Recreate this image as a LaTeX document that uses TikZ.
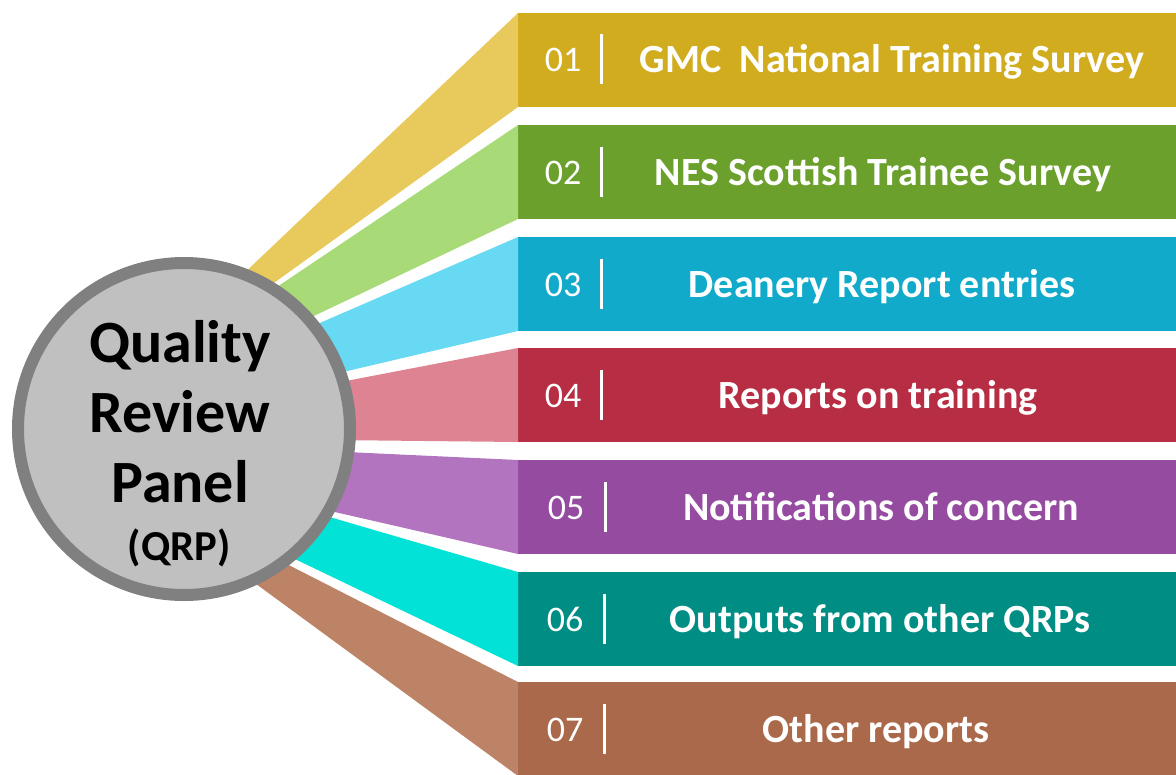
\documentclass[tikz,border=0pt]{standalone}
\usepackage{fontspec}
\setmainfont{Carlito}
% bar (dark) and fan (light) colours
\definecolor{barc1}{HTML}{D1AC1F}\definecolor{fanc1}{HTML}{E8CA5C}
\definecolor{barc2}{HTML}{6AA02B}\definecolor{fanc2}{HTML}{A9DA78}
\definecolor{barc3}{HTML}{12AACB}\definecolor{fanc3}{HTML}{67D9F2}
\definecolor{barc4}{HTML}{B72D43}\definecolor{fanc4}{HTML}{DE8391}
\definecolor{barc5}{HTML}{944BA0}\definecolor{fanc5}{HTML}{B274BE}
\definecolor{barc6}{HTML}{008E84}\definecolor{fanc6}{HTML}{02E2D6}
\definecolor{barc7}{HTML}{A9694A}\definecolor{fanc7}{HTML}{BD8367}
\definecolor{hubfill}{HTML}{C0C0C0}
\definecolor{hubedge}{HTML}{808080}
\begin{document}
\begin{tikzpicture}[x=0.75pt,y=-0.75pt,
  bar/.style={rectangle, inner sep=0pt, outer sep=0pt, minimum width=493.5pt, minimum height=70.5pt},
  num/.style={text=white, font=\fontsize{27}{32}\selectfont, inner sep=0pt, anchor=base},
  divider/.style={fill=white, inner sep=0pt, outer sep=0pt, minimum width=2.25pt, minimum height=38pt},
  title/.style={text=white, font=\bfseries\fontsize{30}{36}\selectfont, inner sep=0pt, anchor=base},
  hub/.style={circle, fill=hubfill, draw=hubedge, line width=9pt, minimum size=249pt, inner sep=0pt},
  hubtext/.style={font=\bfseries\fontsize{45}{52}\selectfont, inner sep=0pt, anchor=base},
  hubsmall/.style={font=\bfseries\fontsize{32}{38}\selectfont, inner sep=0pt, anchor=base}
]
\useasboundingbox (0,0) rectangle (1176,774);

% the seven source bars
\foreach \i/\yc in {1/60,2/172,3/284,4/395,5/507,6/619,7/729}
  \node[bar, fill=barc\i] (bar\i) at (847,\yc) {};

% fan bands running from the hub to each bar
\coordinate (hubc) at (184,429);
\foreach \i/\ax/\ay/\bx/\by in {1/239/278/260/293, 2/262/297/297/324, 3/299/332/326/376,
    4/325/385/332/440, 5/325/451/313/507, 6/309/511/274/549, 7/271/556/237/570}
  \fill[fanc\i] (bar\i.north west) -- (\ax,\ay) -- (hubc) -- (\bx,\by) -- (bar\i.south west) -- cycle;

% hub
\node[hub] (qrp) at (hubc) {};
\node[hubtext] (l1) at (180,362) {Quality};
\node[hubtext] (l2) at (180,432) {Review};
\node[hubtext] (l3) at (180,502) {Panel};
\node[hubsmall] (l4) at (179,560) {(QRP)};

% numbers, dividers and titles
\foreach \i/\nx/\dx/\yc in {1/563/601/59,2/563/601/172,3/563/601/284,4/563/601/395,
    5/566/605/507,6/565/604/619,7/565/604/729}{
  \node[num] (n\i) at (\nx,\yc+12) {0\i};
  \node[divider] (d\i) at (\dx,\yc) {};
}
\node[title] (t1) at (892,73) {GMC\ \ National Training Survey};
\node[title] (t2) at (883,185) {NES Scottish Trainee Survey};
\node[title] (t3) at (882,297) {Deanery Report entries};
\node[title] (t4) at (878,408) {Reports on training};
\node[title] (t5) at (881,520) {Notifications of concern};
\node[title] (t6) at (880,632) {Outputs from other QRPs};
\node[title] (t7) at (876,742) {Other reports};
\end{tikzpicture}
\end{document}
